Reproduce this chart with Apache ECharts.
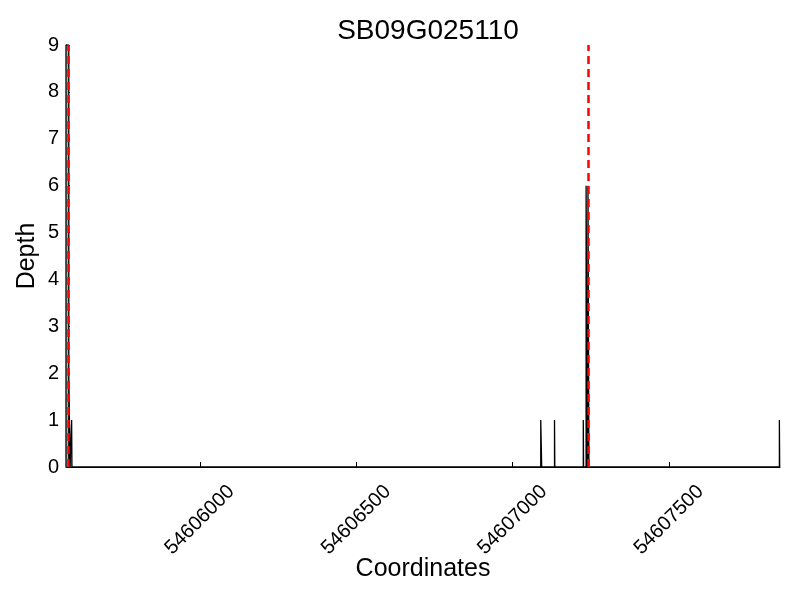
<!DOCTYPE html>
<html>
<head>
<meta charset="utf-8">
<script src="https://cdn.jsdelivr.net/npm/echarts@6/dist/echarts.min.js"></script>
<style>html,body{margin:0;padding:0;background:#fff}#c{width:800px;height:600px}</style>
</head>
<body>
<div id="c"></div>
<script>
var titleText = "SB09G025110";
var xMin = 54605572;
var xMax = 54607855;
var xTicks = [54606000, 54606500, 54607000, 54607500];
var yTicks = [0,1,2,3,4,5,6,7,8,9];
// coverage spikes: start, end, depth
var spikeStart = [54605572, 54605581, 54605590, 54607090, 54607134, 54607226, 54607235, 54607239, 54607241, 54607853];
var spikeEnd   = [54605581, 54605585, 54605591, 54607093, 54607135, 54607227, 54607239, 54607241, 54607244, 54607854];
var spikeDepth = [9, 2, 1, 1, 1, 1, 6, 3, 6, 1];
// gene boundaries (red dashed lines)
var boundaries = [54605578, 54607242];

var data = [];
for (var i = 0; i < spikeStart.length; i++) {
  data.push([spikeStart[i], 0]);
  data.push([spikeStart[i], spikeDepth[i]]);
  data.push([spikeEnd[i], spikeDepth[i]]);
  data.push([spikeEnd[i], 0]);
}

var font = "Liberation Sans";
var chart = echarts.init(document.getElementById('c'), null, {renderer: 'canvas'});
chart.setOption({
  animation: false,
  backgroundColor: '#fff',
  title: {
    text: titleText, left: 423, top: 12, textAlign: 'center',
    textStyle: {fontFamily: font, fontSize: 28, fontWeight: 'normal', color: '#000'}
  },
  grid: {left: 66, right: 20, top: 45, bottom: 133},
  xAxis: {
    type: 'value', min: xMin, max: xMax,
    name: 'Coordinates', nameLocation: 'middle', nameGap: 90, nameMoveOverlap: false,
    nameTextStyle: {fontFamily: font, fontSize: 25, color: '#000'},
    axisLine: {show: true, lineStyle: {color: '#000', width: 1}},
    axisTick: {show: true, inside: true, length: 5, lineStyle: {color: '#000'}, customValues: xTicks},
    axisLabel: {
      customValues: xTicks, rotate: 45, align: 'center', verticalAlign: 'middle', margin: 53,
      fontFamily: font, fontSize: 20, color: '#000',
      formatter: function (v) { return String(v); }
    },
    splitLine: {show: false}
  },
  yAxis: {
    type: 'value', min: 0, max: 9, interval: 1,
    name: 'Depth', nameLocation: 'middle', nameGap: 26, nameMoveOverlap: false,
    nameTextStyle: {fontFamily: font, fontSize: 25, color: '#000'},
    axisLine: {show: true, lineStyle: {color: '#000', width: 1}},
    axisTick: {show: true, inside: true, length: 4, lineStyle: {color: '#000'}},
    axisLabel: {fontFamily: font, fontSize: 20, color: '#000', margin: 7},
    splitLine: {show: false}
  },
  series: [{
    type: 'line',
    data: data,
    symbol: 'none',
    lineStyle: {color: '#000', width: 1.3},
    areaStyle: {color: '#b0b0b0', opacity: 1},
    markLine: {
      silent: true, symbol: 'none', label: {show: false},
      lineStyle: {color: '#ff0000', type: [8, 5], width: 2.5},
      data: boundaries.map(function (b) { return {xAxis: b}; })
    }
  }]
});
</script>
</body>
</html>
